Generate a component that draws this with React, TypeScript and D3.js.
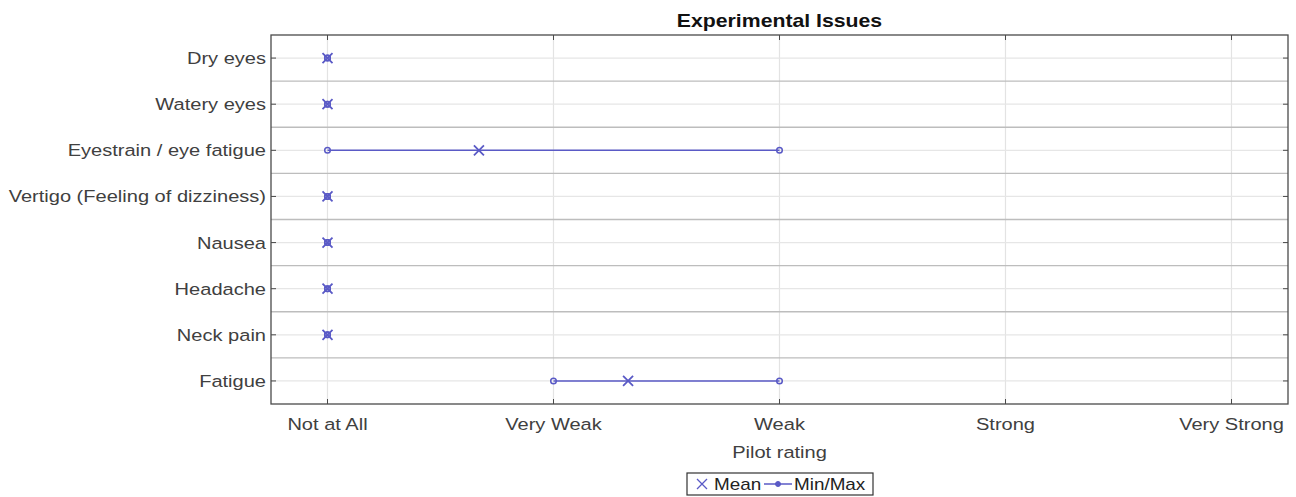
import React from "react";
import * as d3 from "d3";

const categories = [
  "Dry eyes",
  "Watery eyes",
  "Eyestrain / eye fatigue",
  "Vertigo (Feeling of dizziness)",
  "Nausea",
  "Headache",
  "Neck pain",
  "Fatigue",
];
const meanValues = [0, 0, 0.67, 0, 0, 0, 0, 1.33];
const minValues = [0, 0, 0, 0, 0, 0, 0, 1];
const maxValues = [0, 0, 2, 0, 0, 0, 0, 2];
const xTickLabels = ["Not at All", "Very Weak", "Weak", "Strong", "Very Strong"];

const W = 1296;
const H = 497;
const M = { left: 271, right: 1288, top: 35, bottom: 404 };
const COLOR = "#5a5ac6";
const FONT = "'Liberation Sans', Arial, sans-serif";
const SX = 1.18;

function T(props: {
  x: number;
  y: number;
  size: number;
  anchor?: string;
  weight?: string;
  fill?: string;
  dy?: string;
  children: React.ReactNode;
}) {
  return (
    <text
      transform={`translate(${props.x},${props.y}) scale(${SX},1)`}
      textAnchor={props.anchor || "start"}
      fontSize={props.size}
      fontWeight={props.weight || "normal"}
      fill={props.fill || "#404040"}
      dy={props.dy}
    >
      {props.children}
    </text>
  );
}

export default function App() {
  const x = d3.scaleLinear().domain([-0.25, 4.25]).range([M.left, M.right]);
  const y = d3
    .scaleLinear()
    .domain([0.5, categories.length + 0.5])
    .range([M.top, M.bottom]);
  const xt = d3.range(xTickLabels.length);
  const seps = d3.range(1.5, categories.length, 1);
  const line = d3.line<[number, number]>().x((d) => x(d[0])).y((d) => y(d[1]));
  const cx = (M.left + M.right) / 2;

  const xMark = (px: number, py: number, s: number, key: string, w = 1.8) => (
    <path
      key={key}
      d={`M${px - s},${py - s}L${px + s},${py + s}M${px - s},${py + s}L${px + s},${py - s}`}
      stroke={COLOR}
      strokeWidth={w}
      fill="none"
    />
  );

  return (
    <svg
      width={W}
      height={H}
      style={{ position: "absolute", left: 0, top: 0, background: "#fff" }}
      fontFamily={FONT}
    >
      <rect x={0} y={0} width={W} height={H} fill="#fff" />
      {xt.map((v) => (
        <line key={"vg" + v} x1={x(v)} x2={x(v)} y1={M.top} y2={M.bottom} stroke="#e3e3e3" strokeWidth={1.2} />
      ))}
      {categories.map((c, i) => (
        <line key={"hg" + i} x1={M.left} x2={M.right} y1={y(i + 1)} y2={y(i + 1)} stroke="#e6e6e6" strokeWidth={1.2} />
      ))}
      {seps.map((v) => (
        <line key={"sp" + v} x1={M.left} x2={M.right} y1={y(v)} y2={y(v)} stroke="#bdbdbd" strokeWidth={1.3} />
      ))}
      <rect
        x={M.left}
        y={M.top}
        width={M.right - M.left}
        height={M.bottom - M.top}
        fill="none"
        stroke="#4a4a4a"
        strokeWidth={1.3}
      />
      {xt.map((v) => (
        <g key={"xt" + v}>
          <line x1={x(v)} x2={x(v)} y1={M.bottom} y2={M.bottom - 5} stroke="#4a4a4a" />
          <line x1={x(v)} x2={x(v)} y1={M.top} y2={M.top + 5} stroke="#4a4a4a" />
          <T x={x(v)} y={M.bottom + 26} size={17} anchor="middle">
            {xTickLabels[v]}
          </T>
        </g>
      ))}
      {categories.map((c, i) => (
        <g key={"yt" + i}>
          <line x1={M.left} x2={M.left + 5} y1={y(i + 1)} y2={y(i + 1)} stroke="#4a4a4a" />
          <line x1={M.right} x2={M.right - 5} y1={y(i + 1)} y2={y(i + 1)} stroke="#4a4a4a" />
          <T x={M.left - 5} y={y(i + 1)} dy="0.35em" size={17} anchor="end">
            {c}
          </T>
        </g>
      ))}
      {categories.map((c, i) => (
        <g key={"mm" + i}>
          <path
            d={line([[minValues[i], i + 1], [maxValues[i], i + 1]]) || ""}
            stroke={COLOR}
            strokeWidth={1.5}
            fill="none"
          />
          <circle cx={x(minValues[i])} cy={y(i + 1)} r={2.8} fill="none" stroke={COLOR} strokeWidth={1.5} />
          <circle cx={x(maxValues[i])} cy={y(i + 1)} r={2.8} fill="none" stroke={COLOR} strokeWidth={1.5} />
        </g>
      ))}
      {categories.map((c, i) => xMark(x(meanValues[i]), y(i + 1), 5, "mean" + i, 1.8))}
      <T x={cx} y={M.top - 8} size={18} weight="bold" anchor="middle" fill="#111">
        Experimental Issues
      </T>
      <T x={cx} y={M.bottom + 54} size={17} anchor="middle">
        Pilot rating
      </T>
      <g>
        <rect x={687} y={473} width={186} height={22} fill="#fff" stroke="#333" strokeWidth={1.2} />
        {xMark(702, 484, 5, "lg1", 1.3)}
        <T x={714} y={484} dy="0.35em" size={16} fill="#222">
          Mean
        </T>
        <line x1={764} x2={792} y1={484} y2={484} stroke={COLOR} strokeWidth={1.5} />
        <circle cx={778} cy={484} r={2.5} fill={COLOR} stroke={COLOR} />
        <T x={794} y={484} dy="0.35em" size={16} fill="#222">
          Min/Max
        </T>
      </g>
    </svg>
  );
}
